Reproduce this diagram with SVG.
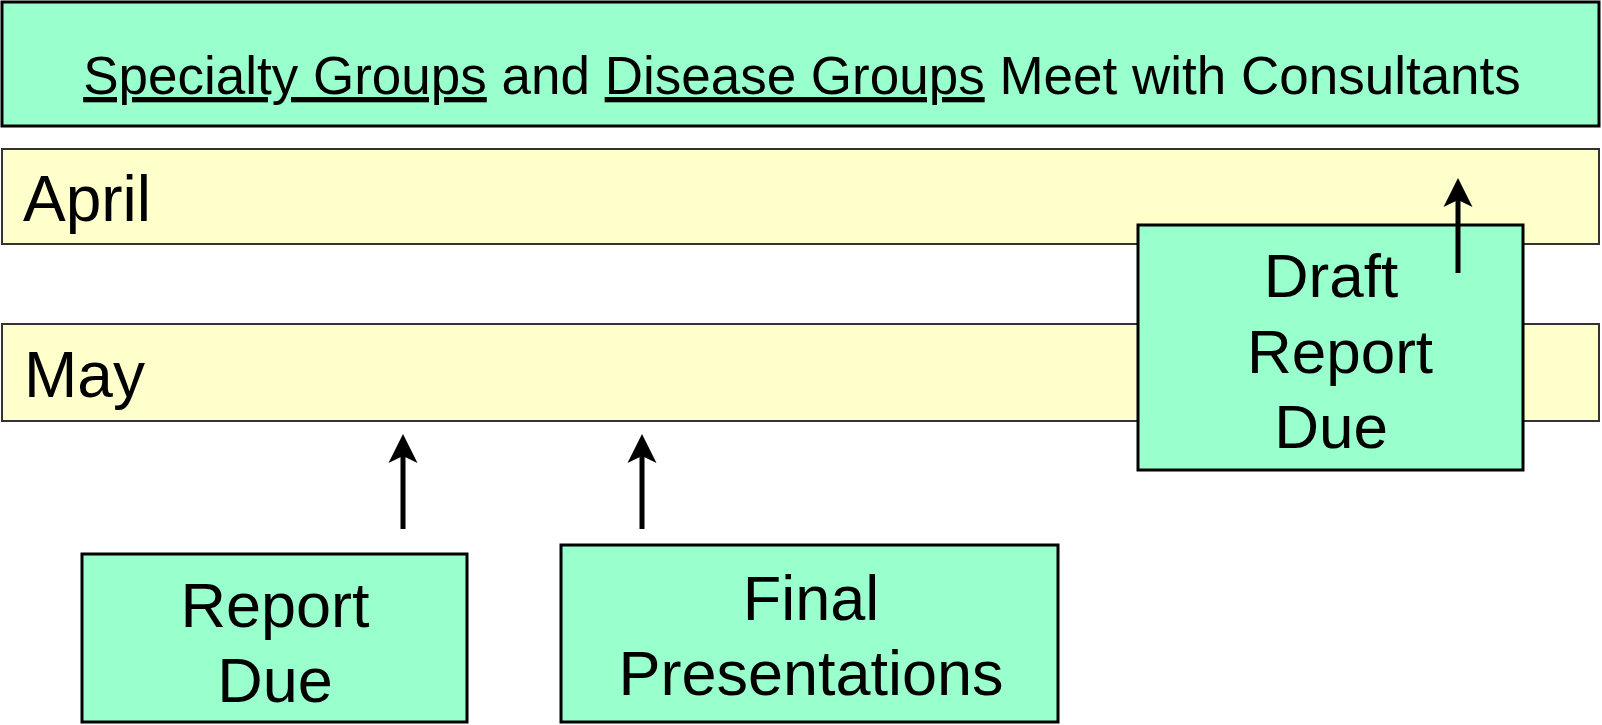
<svg xmlns="http://www.w3.org/2000/svg" width="1602" height="725" viewBox="0 0 1602 725">
<style>
.green{fill:#99FFCC;stroke:#000;stroke-width:3}
.band{fill:#FFFFCC;stroke:#333;stroke-width:2}
.t{font-family:"Liberation Sans",Arial,sans-serif;fill:#000}
.c{text-anchor:middle}
.arrow{stroke:#000;stroke-width:5;fill:none;marker-end:url(#ah)}
</style>
<defs>
<marker id="ah" markerUnits="userSpaceOnUse" viewBox="-30 -16 41 32" markerWidth="41" markerHeight="32" refX="-10" refY="0" orient="auto">
<path d="M0,0 L-29,-14.5 L-22,0 L-29,14.5 Z" fill="#000"/>
</marker>
</defs>
<g id="banner">
<rect class="green" x="2" y="2" width="1597" height="124"/>
<text class="t c" x="802" y="94" font-size="53"><tspan text-decoration="underline">Specialty Groups</tspan> and <tspan text-decoration="underline">Disease Groups</tspan> Meet with Consultants</text>
</g>
<g id="april">
<rect class="band" x="2" y="149" width="1597" height="95"/>
<text class="t" x="23" y="221" font-size="64">April</text>
</g>
<g id="may">
<rect class="band" x="2" y="324" width="1597" height="97"/>
<text class="t" x="24" y="397" font-size="64">May</text>
</g>
<g id="draft">
<rect class="green" x="1138" y="225" width="385" height="245"/>
<text class="t c" font-size="62"><tspan x="1331" y="297">Draft</tspan><tspan x="1340" y="373">Report</tspan><tspan x="1331" y="448">Due</tspan></text>
</g>
<g id="report">
<rect class="green" x="82" y="554" width="385" height="168"/>
<text class="t c" font-size="63"><tspan x="275" y="627">Report</tspan><tspan x="275" y="702">Due</tspan></text>
</g>
<g id="final">
<rect class="green" x="561" y="545" width="497" height="177"/>
<text class="t c" font-size="63"><tspan x="811" y="620">Final</tspan><tspan x="811" y="695">Presentations</tspan></text>
</g>
<g id="connectors">
<line class="arrow" x1="403" y1="529" x2="403" y2="444"/>
<line class="arrow" x1="642" y1="529" x2="642" y2="444"/>
<line class="arrow" x1="1458" y1="273" x2="1458" y2="188"/>
</g>
</svg>
